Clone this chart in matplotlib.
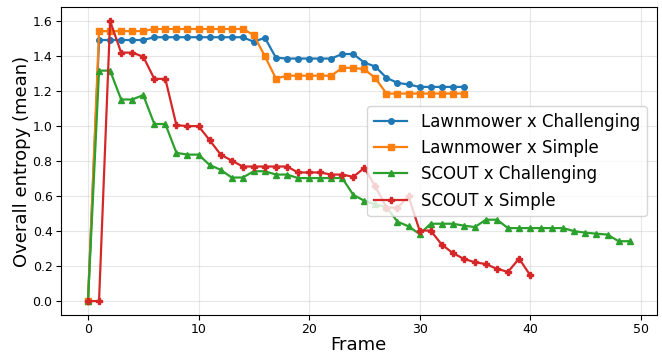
import matplotlib
matplotlib.use('Agg')
import matplotlib.pyplot as plt

# ========== DATA ==========
lawn_chal = [0.0, 1.492, 1.492, 1.492, 1.492, 1.492, 1.508, 1.508, 1.508, 1.508,
             1.508, 1.508, 1.508, 1.508, 1.508, 1.482, 1.505, 1.391, 1.386, 1.386,
             1.386, 1.386, 1.386, 1.412, 1.412, 1.363, 1.340, 1.276, 1.247, 1.238,
             1.224, 1.224, 1.224, 1.224, 1.224]
lawn_simple = [0.0, 1.543, 1.543, 1.543, 1.543, 1.543, 1.555, 1.555, 1.555, 1.555,
               1.555, 1.555, 1.555, 1.555, 1.555, 1.520, 1.400, 1.272, 1.288, 1.288,
               1.288, 1.288, 1.288, 1.333, 1.333, 1.325, 1.274, 1.186, 1.186, 1.186,
               1.186, 1.186, 1.186, 1.186, 1.186]
scout_chal = [0.0, 1.317, 1.317, 1.152, 1.152, 1.177, 1.012, 1.012, 0.847, 0.837,
              0.837, 0.778, 0.750, 0.706, 0.706, 0.742, 0.742, 0.723, 0.723, 0.703,
              0.703, 0.703, 0.703, 0.703, 0.607, 0.573, 0.552, 0.537, 0.454, 0.427,
              0.383, 0.442, 0.442, 0.442, 0.431, 0.423, 0.465, 0.465, 0.417, 0.417,
              0.417, 0.417, 0.417, 0.417, 0.399, 0.391, 0.385, 0.380, 0.342, 0.342]
scout_simple = [0.0, 0.0, 1.600, 1.420, 1.420, 1.397, 1.270, 1.270, 1.005, 1.000,
                1.000, 0.920, 0.837, 0.803, 0.769, 0.769, 0.769, 0.769, 0.769, 0.735,
                0.735, 0.735, 0.723, 0.723, 0.710, 0.761, 0.655, 0.534, 0.534, 0.598,
                0.403, 0.403, 0.323, 0.275, 0.241, 0.222, 0.211, 0.184, 0.167, 0.243,
                0.148]

series = [
    ("Lawnmower x Challenging", lawn_chal, "o", "#1f77b4"),
    ("Lawnmower x Simple", lawn_simple, "s", "#ff7f0e"),
    ("SCOUT x Challenging", scout_chal, "^", "#2ca02c"),
    ("SCOUT x Simple", scout_simple, "P", "#d62728"),
]

# ========== PLOT ==========
fig, ax = plt.subplots(figsize=(6.62, 3.56), dpi=100)

for label, vals, marker, color in series:
    ax.plot(range(len(vals)), vals, marker=marker, color=color, label=label,
            linewidth=1.6, markersize=4)

ax.set_xlabel("Frame", fontsize=13, labelpad=0)
ax.set_ylabel("Overall entropy (mean)", fontsize=13, labelpad=1)
ax.tick_params(labelsize=9, pad=2.5)
ax.grid(True, alpha=0.3)
ax.legend(loc="center right", fontsize=12, borderaxespad=0.6)

fig.subplots_adjust(left=0.092, right=0.992, top=0.98, bottom=0.115)
fig.savefig("out.png", dpi=100)
